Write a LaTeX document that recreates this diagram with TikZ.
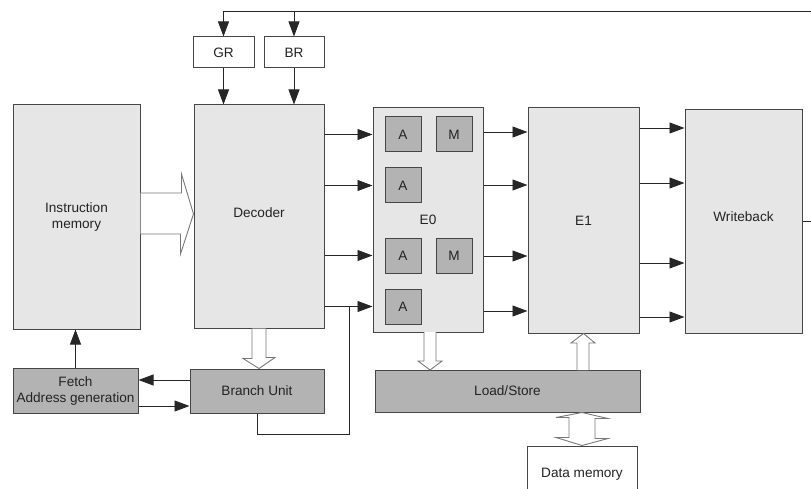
\documentclass[tikz,border=0pt]{standalone}
\usepackage{fontspec}
\setmainfont{Liberation Sans}
\usetikzlibrary{arrows.meta,calc}

\definecolor{boxlight}{RGB}{230,230,230}
\definecolor{boxdark}{RGB}{179,179,179}
\definecolor{edge}{RGB}{70,70,70}
\definecolor{ink}{RGB}{35,35,35}
\definecolor{hollowedge}{RGB}{120,120,120}

\tikzset{
  lightbox/.style={draw=edge, line width=1pt, fill=boxlight, inner sep=0pt, align=center, text=ink},
  darkbox/.style={draw=edge, line width=1pt, fill=boxdark, inner sep=0pt, align=center, text=ink},
  plainbox/.style={draw=edge, line width=1pt, fill=white, inner sep=0pt, align=center, text=ink},
  wire/.style={draw=black!85, line width=0.9pt},
  arr/.style={wire, -{Triangle[length=15pt,width=11pt]}},
  hollow/.style={draw=hollowedge, line width=0.9pt, fill=white, line join=miter},
}

\begin{document}
\begin{tikzpicture}[x=1pt, y=-1pt, font=\fontsize{13.6}{16}\selectfont]
\useasboundingbox (0,0) rectangle (811,489);

% pipeline blocks
\node[lightbox, minimum width=127pt, minimum height=224pt] (im) at (76.5,217) {Instruction\\memory};
\node[lightbox, minimum width=130pt, minimum height=223pt] (dec) at (259,216.5) {\raisebox{7pt}{Decoder}};
\node[plainbox, minimum width=61pt, minimum height=31pt] (gr) at (223.5,52.5) {GR};
\node[plainbox, minimum width=60pt, minimum height=31pt] (br) at (294,52.5) {BR};
\node[lightbox, minimum width=110pt, minimum height=224pt] (e0) at (428,220) {E0};
\node[lightbox, minimum width=111pt, minimum height=225pt] (e1) at (583.5,220.5) {E1};
\node[lightbox, minimum width=117pt, minimum height=223pt] (wb) at (743.5,221.5) {\raisebox{9pt}{Writeback}};

% functional units inside E0
\node[darkbox, minimum width=36pt, minimum height=35pt] (a1) at (403,134.5) {A};
\node[darkbox, minimum width=36pt, minimum height=35pt] (m1) at (454,134.5) {M};
\node[darkbox, minimum width=36pt, minimum height=35pt] (a2) at (403,185.5) {A};
\node[darkbox, minimum width=36pt, minimum height=35pt] (a3) at (403,255.5) {A};
\node[darkbox, minimum width=36pt, minimum height=35pt] (m2) at (454,255.5) {M};
\node[darkbox, minimum width=36pt, minimum height=35pt] (a4) at (403,306.5) {A};

% lower row
\node[darkbox, minimum width=125pt, minimum height=45pt] (fetch) at (75.5,390.5) {Fetch\\Address generation};
\node[darkbox, minimum width=134pt, minimum height=44pt] (bu) at (257,391) {Branch Unit};
\node[darkbox, minimum width=265pt, minimum height=42pt] (ls) at (507.5,391) {Load/Store};
\node[plainbox, minimum width=110pt, minimum height=60pt, text depth=0pt] (dm) at (582,476) {\raisebox{6pt}{Data memory}};

% register feedback from writeback
\coordinate (fbtop) at (815,11);
\draw[wire] (wb.east) -| (fbtop) -- (gr.north |- fbtop);
\draw[arr] (gr.north |- fbtop) -- (gr.north);
\draw[arr] (br.north |- fbtop) -- (br.north);
\draw[arr] (gr.south) -- (gr.south |- dec.north);
\draw[arr] (br.south) -- (br.south |- dec.north);

% decoder to E0
\draw[arr] (dec.east |- a1) -- (e0.west |- a1);
\draw[arr] (dec.east |- a2) -- (e0.west |- a2);
\draw[arr] (dec.east |- a3) -- (e0.west |- a3);
\draw[arr] (dec.east |- a4) -- (e0.west |- a4);

% E0 to E1
\coordinate (q1) at (0,132);
\coordinate (q2) at (0,185);
\coordinate (q3) at (0,256);
\coordinate (q4) at (0,311);
\draw[arr] (e0.east |- q1) -- (e1.west |- q1);
\draw[arr] (e0.east |- q2) -- (e1.west |- q2);
\draw[arr] (e0.east |- q3) -- (e1.west |- q3);
\draw[arr] (e0.east |- q4) -- (e1.west |- q4);

% E1 to writeback
\coordinate (w1) at (0,128);
\coordinate (w2) at (0,183);
\coordinate (w3) at (0,263);
\coordinate (w4) at (0,317);
\draw[arr] (e1.east |- w1) -- (wb.west |- w1);
\draw[arr] (e1.east |- w2) -- (wb.west |- w2);
\draw[arr] (e1.east |- w3) -- (wb.west |- w3);
\draw[arr] (e1.east |- w4) -- (wb.west |- w4);

% branch unit tap on the last decoder output
\coordinate (tap) at (349,306.5);
\coordinate (under) at (0,434);
\draw[wire] (bu.south) -- (bu.south |- under) -| (tap);

% fetch loop
\coordinate (f1) at (0,380);
\coordinate (f2) at (0,406);
\draw[arr] (fetch.north) -- (fetch.north |- im.south);
\draw[arr] (bu.west |- f1) -- (fetch.east |- f1);
\draw[arr] (fetch.east |- f2) -- (bu.west |- f2);

% wide data-path arrows
\draw[hollow] (im.east |- 0,193) -- ++(41,0) -- ++(0,-19) -- (dec.west |- 0,214)
  -- ++(-13,40) -- ++(0,-20) -- (im.east |- 0,234);
\draw[hollow] ($(dec.south)+(-7,0)$) -- ++(0,30) -- ++(-9,0) -- (dec.south |- bu.north)
  -- ++(16,-11) -- ++(-9,0) -- ($(dec.south)+(7,0)$);
\draw[hollow] (424,332) -- (424,361) -- (418,361) -- (430,370) -- (442,361) -- (436,361) -- (436,332);
\draw[hollow] (577,370) -- (577,343) -- (571,343) -- (e1.south) -- (595,343) -- (589,343) -- (589,370);
\draw[hollow] (ls.south -| dm.north) -- ++(26,6) -- ++(-13,0) -- ++(0,20) -- ++(13,0)
  -- (dm.north) -- ++(-26,-8) -- ++(13,0) -- ++(0,-20) -- ++(-13,0) -- cycle;
\end{tikzpicture}
\end{document}
